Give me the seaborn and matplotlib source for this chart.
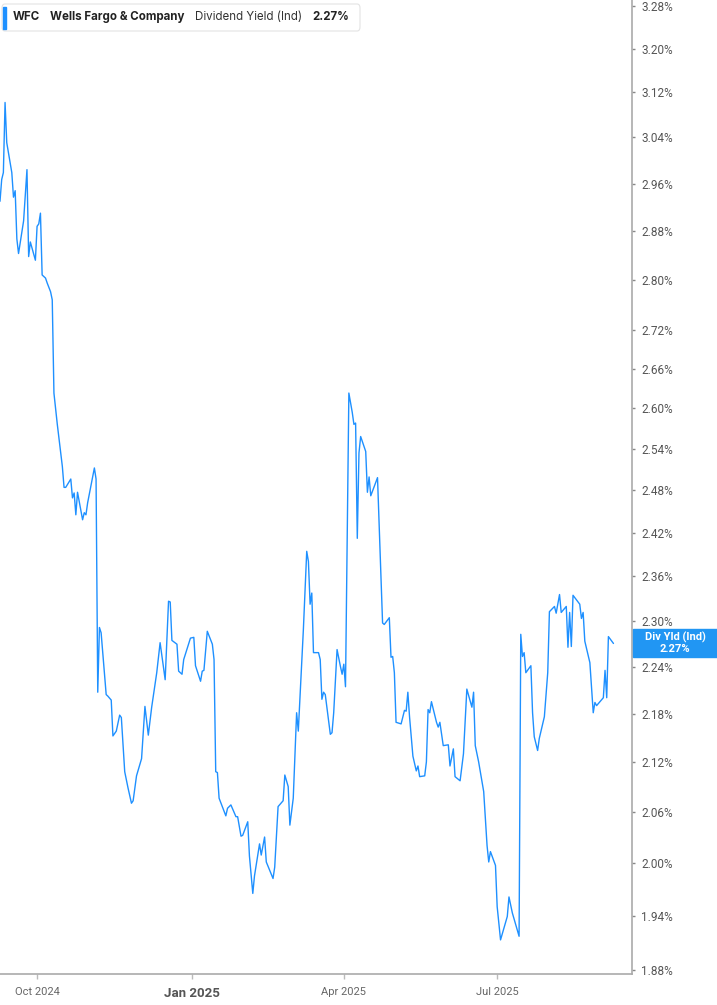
import matplotlib
matplotlib.use('Agg')
import matplotlib.pyplot as plt
import matplotlib.ticker as mticker
from matplotlib.patches import Rectangle, FancyBboxPatch
import pandas as pd
import seaborn as sns

sns.set_style('white')
plt.rcParams['font.family'] = ['Roboto', 'DejaVu Sans']

# Data (days counted from the first point)
START = '2024-09-09'
day_offsets = [
    0, 1, 2, 3, 4, 7, 8, 9, 10, 11, 14, 16, 17, 18, 21, 22, 23, 24, 25, 27,
    28, 30, 31, 32, 34, 37, 38, 39, 42, 43, 44, 45, 46, 49, 50, 51, 52, 56, 57, 58,
    59, 60, 63, 64, 66, 67, 69, 71, 72, 74, 76, 78, 79, 81, 84, 86, 88, 90, 93, 95,
    98, 100, 101, 102, 105, 106, 108, 109, 113, 115, 116, 119, 120, 121, 123, 126, 127, 128, 129, 130,
    134, 135, 137, 140, 141, 143, 144, 147, 148, 150, 151, 154, 155, 157, 158, 162, 163, 165, 168, 169,
    171, 172, 174, 176, 177, 179, 180, 182, 183, 184, 185, 186, 189, 190, 191, 192, 193, 196, 197, 198,
    200, 202, 203, 204, 205, 207, 209, 210, 211, 212, 213, 214, 217, 218, 219, 220, 224, 226, 227, 228,
    231, 232, 233, 234, 235, 238, 240, 241, 242, 243, 245, 247, 248, 249, 252, 253, 254, 255, 256, 259,
    260, 261, 263, 266, 267, 269, 270, 273, 275, 277, 280, 281, 282, 284, 287, 289, 290, 291, 294, 295,
    297, 301, 302, 304, 308, 309, 310, 311, 312, 315, 316, 317, 319, 320, 323, 325, 326, 329, 330, 332,
    333, 336, 337, 338, 339, 340, 344, 345, 346, 347, 350, 352, 353, 354, 358, 359, 360, 361, 364,
]
yields = [
    2.930, 2.967, 2.979, 3.102, 3.031, 2.979, 2.937, 2.948, 2.867, 2.843, 2.897, 2.984, 2.838, 2.862, 2.832, 2.888, 2.892, 2.910, 2.808, 2.803,
    2.795, 2.781, 2.768, 2.623, 2.576, 2.514, 2.484, 2.484, 2.496, 2.469, 2.476, 2.445, 2.477, 2.438, 2.448, 2.445, 2.462, 2.512, 2.496, 2.207,
    2.291, 2.284, 2.204, 2.202, 2.197, 2.152, 2.158, 2.178, 2.175, 2.108, 2.088, 2.070, 2.073, 2.103, 2.124, 2.189, 2.153, 2.188, 2.232, 2.271,
    2.223, 2.326, 2.325, 2.274, 2.269, 2.234, 2.230, 2.249, 2.277, 2.278, 2.241, 2.221, 2.234, 2.235, 2.286, 2.269, 2.249, 2.108, 2.107, 2.076,
    2.055, 2.064, 2.068, 2.054, 2.054, 2.031, 2.032, 2.048, 2.008, 1.965, 1.985, 2.022, 2.009, 2.030, 2.001, 1.982, 1.995, 2.066, 2.073, 2.104,
    2.090, 2.044, 2.076, 2.181, 2.158, 2.245, 2.288, 2.394, 2.380, 2.322, 2.337, 2.258, 2.258, 2.249, 2.198, 2.207, 2.204, 2.154, 2.156, 2.181,
    2.262, 2.240, 2.230, 2.243, 2.214, 2.623, 2.594, 2.576, 2.578, 2.412, 2.534, 2.558, 2.536, 2.477, 2.499, 2.472, 2.498, 2.360, 2.297, 2.295,
    2.304, 2.252, 2.253, 2.232, 2.169, 2.167, 2.184, 2.183, 2.207, 2.176, 2.127, 2.109, 2.115, 2.102, 2.103, 2.120, 2.185, 2.181, 2.195, 2.169,
    2.163, 2.169, 2.140, 2.141, 2.115, 2.136, 2.102, 2.097, 2.130, 2.211, 2.188, 2.207, 2.140, 2.120, 2.084, 2.020, 2.001, 2.013, 1.997, 1.950,
    1.913, 1.939, 1.961, 1.943, 1.917, 2.282, 2.253, 2.258, 2.232, 2.241, 2.181, 2.151, 2.134, 2.149, 2.176, 2.232, 2.312, 2.319, 2.310, 2.335,
    2.311, 2.319, 2.265, 2.311, 2.266, 2.334, 2.322, 2.303, 2.311, 2.273, 2.245, 2.181, 2.194, 2.190, 2.200, 2.235, 2.200, 2.279, 2.270,
]
y_ticks = [1.88, 1.94, 2.00, 2.06, 2.12, 2.18, 2.24, 2.30, 2.36, 2.42, 2.48,
           2.54, 2.60, 2.66, 2.72, 2.80, 2.88, 2.96, 3.04, 3.12, 3.20, 3.28]
x_ticks = ['2024-10-01', '2025-01-01', '2025-04-01', '2025-07-01']
x_tick_labels = ['Oct 2024', 'Jan 2025', 'Apr 2025', 'Jul 2025']
symbol = 'WFC'
company = 'Wells Fargo & Company'
metric = 'Dividend Yield (Ind)'
short_metric = 'Div Yld (Ind)'
last_value = 2.27

BLUE = '#1e90ff'
W, H = 717, 1005
HEAD_FONT = ['Inter', 'DejaVu Sans']

df = pd.DataFrame({
    'date': pd.Timestamp(START) + pd.to_timedelta(day_offsets, unit='D'),
    'yield': yields,
})

fig = plt.figure(figsize=(W / 100, H / 100), dpi=100)
ax = fig.add_axes([0, 31 / H, 632 / W, 974 / H])

sns.lineplot(data=df, x='date', y='yield', ax=ax, color=BLUE, linewidth=1.0)

ax.set_yscale('log')
ax.set_ylim(1.8757, 3.291)
ax.set_xlim(pd.Timestamp(START), pd.Timestamp(START) + pd.Timedelta(days=375))

ax.yaxis.tick_right()
ax.yaxis.set_major_locator(mticker.FixedLocator(y_ticks))
ax.yaxis.set_major_formatter(mticker.FixedFormatter([f'{v:.2f}%' for v in y_ticks]))
ax.yaxis.set_minor_locator(mticker.NullLocator())
ax.set_xticks(pd.to_datetime(x_ticks))
ax.set_xticklabels(x_tick_labels)
ax.set_xlabel('')
ax.set_ylabel('')

for side in ['top', 'left']:
    ax.spines[side].set_visible(False)
for side in ['bottom', 'right']:
    ax.spines[side].set_color('#aaaaaa')
    ax.spines[side].set_linewidth(1.2)

ax.tick_params(axis='y', which='major', length=2.5, width=1, color='#888888',
               pad=4, labelsize=8.5, labelcolor='#555555', right=True, left=False)
ax.tick_params(axis='x', which='major', length=3.5, width=1, color='#bbbbbb',
               pad=6, labelsize=8, labelcolor='#666666', bottom=True)
for lab in ax.get_xticklabels():
    if lab.get_text() == 'Jan 2025':
        lab.set_fontweight('bold')
        lab.set_fontsize(9.5)
        lab.set_color('#555555')

# Header box
fig.patches.append(FancyBboxPatch((2 / W, 1 - 31 / H), 358 / W, 27 / H,
                                  boxstyle='round,pad=0,rounding_size=0.004',
                                  transform=fig.transFigure, facecolor='white',
                                  edgecolor='#e3e3e3', linewidth=0.8))
fig.patches.append(Rectangle((3 / W, 1 - 29 / H), 3 / W, 22 / H,
                             transform=fig.transFigure, color=BLUE))
head_y = 1 - 17 / H
fig.text(13 / W, head_y, symbol, fontsize=8.3, fontweight='bold', color='#222222',
         va='center', family=HEAD_FONT)
fig.text(50 / W, head_y, company, fontsize=8.3, fontweight='bold', color='#222222',
         va='center', family=HEAD_FONT)
fig.text(195 / W, head_y, metric, fontsize=8.3, color='#333333',
         va='center', family=HEAD_FONT)
fig.text(312 / W, head_y, f'{last_value:.2f}%', fontsize=8.3, fontweight='bold',
         color='#222222', va='center', family=HEAD_FONT)

# Last value tag on the right axis
y_disp = ax.transData.transform((ax.get_xlim()[1], last_value))[1]
yf = fig.transFigure.inverted().transform((0, y_disp))[1]
fig.patches.append(Rectangle((633 / W, yf - 14 / H), 84 / W, 28 / H,
                             transform=fig.transFigure, color='#2196f3'))
fig.text(675 / W, yf + 6 / H, short_metric, fontsize=8, fontweight='bold',
         color='white', ha='center', va='center')
fig.text(675 / W, yf - 6 / H, f'{last_value:.2f}%', fontsize=8, fontweight='bold',
         color='white', ha='center', va='center')

fig.savefig('out.png', dpi=100)
